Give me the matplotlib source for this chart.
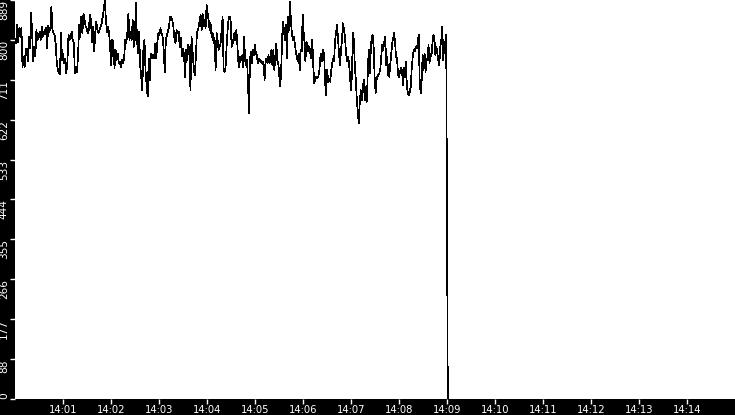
import numpy as np
import pandas as pd
import matplotlib
matplotlib.use('Agg')
import matplotlib.pyplot as plt
import matplotlib.dates as mdates

# readings split in stretches; each stretch is evenly sampled between its
# first and last second after 14:00:00
seg_a = [
    801, 792, 833, 794, 826, 807, 826, 740, 763, 740,
    778, 781, 752, 807, 781, 861, 818, 752, 785, 763,
    822, 800, 807, 818, 800, 830, 807, 815, 822, 826,
    781, 831, 818, 826, 874, 822, 815, 811, 792, 752,
    733, 726, 724, 815, 755, 770, 748, 759, 726, 752,
    811, 800, 804, 818, 800, 792, 726, 740, 729, 770,
    833, 807, 852, 815, 859, 844, 830, 826, 815, 822,
    856, 844, 796, 830, 774, 815, 841, 822, 815, 822,
    830, 837, 852, 867, 889, 844, 818, 830, 815, 778,
    744, 800, 792, 737, 778, 755, 770, 748, 752, 740,
    755, 748, 759, 800, 792, 815, 859, 800, 818, 800,
    844, 785, 800, 882, 800, 770, 818, 744, 718, 688,
    778, 800, 733, 700, 674, 759, 711, 770, 759, 766,
    759, 792, 759, 792, 815, 811, 826, 815, 807, 778,
    729, 800, 811, 818, 830, 852, 850, 844, 830, 804,
    792, 822, 815, 818, 785, 804, 763, 781, 766, 718,
    778, 755, 789, 781, 688, 807, 774, 740, 722, 759,
    815, 822, 833,
]
seg_b = [
    856, 822, 859, 830, 844, 826, 878, 859, 844, 822,
    837, 807, 815, 792, 804, 733, 815, 800, 778, 785,
    792, 822, 852, 733, 729, 740, 785, 822, 848, 852,
    844, 785, 800,
]
seg_c = [
    792, 815, 800, 822, 792, 752, 740, 763, 755, 766,
    740, 807, 755, 744, 755, 703, 636, 755, 774, 748,
    778, 766, 789, 770, 766, 748, 759, 752, 755, 748,
    752, 744, 711, 755, 759, 748, 766, 748, 763, 778,
    744, 778, 733, 766, 792, 755, 748, 722, 696, 733,
    807, 841, 815, 800, 833, 759, 852, 822, 885, 841,
    815, 800, 807, 792, 774, 763, 752, 770, 733, 778,
    774, 856, 818, 792,
]
seg_d = [
    752, 796, 792, 774, 785, 770, 759, 800, 740, 703,
    714, 718, 714, 718, 729, 759, 770, 752, 778, 763,
    703, 677, 733, 707, 714, 707, 729, 748, 759, 752,
    800, 815, 833, 800, 770, 744, 778, 800, 837, 822,
    807, 774, 752, 763, 752, 722, 688, 718, 815, 800,
    740, 711, 666, 640, 614, 662, 688, 666, 692, 711,
    666, 696, 662, 718, 778, 726, 770, 807, 811, 785,
    718, 681, 711,
]
seg_e = [
    718, 722, 726, 737, 766, 789, 778, 796, 807, 744,
    763, 722, 718, 744, 766, 792, 804, 815, 792, 763,
    759, 722, 718, 729, 737, 733, 700, 737, 718, 752,
    696, 681, 677, 685, 696, 740, 763, 778, 774, 785,
    781, 792, 811, 711, 681, 707, 766, 733, 770, 729,
    759, 755, 789, 748, 770, 763, 792, 811, 804, 766,
    785, 770, 755, 744, 785, 800, 830, 755, 796, 770,
    811,
]
seg_end = [403, 0]

segments = [seg_a, seg_b, seg_c, seg_d, seg_e, seg_end]
seg_start_s = [0, 232, 273, 363, 453, 540]
seg_end_s = [230, 272, 362, 452, 539, 541]

y_ticks = [0, 88.9, 177.8, 266.7, 355.6, 444.5, 533.4, 622.3, 711.2, 800.1, 889]
y_labels = ['0', '88', '177', '266', '355', '444', '533', '622', '711', '800', '889']

day = pd.Timestamp('2024-01-01 14:00:00')
times = []
values = []
for seg, s0, s1 in zip(segments, seg_start_s, seg_end_s):
    times.extend(day + pd.to_timedelta(np.linspace(s0, s1, len(seg)), unit='s'))
    values.extend(seg)

x_ticks = pd.date_range(day + pd.Timedelta(minutes=1), day + pd.Timedelta(minutes=14), freq='1min')

fig = plt.figure(figsize=(7.35, 4.15), dpi=100, facecolor='black')
ax = fig.add_axes([15 / 735, 16 / 415, 720 / 735, 399 / 415])
ax.set_facecolor('white')

ax.plot(times, values, color='black', lw=0.5, antialiased=False)

ax.set_xlim(day, day + pd.Timedelta(minutes=15))
ax.set_ylim(0, 889)
for s in ax.spines.values():
    s.set_visible(False)

ax.set_xticks(x_ticks)
ax.xaxis.set_major_formatter(mdates.DateFormatter('%H:%M'))
ax.tick_params(axis='x', colors='white', length=3.6, width=1, pad=0.8,
               labelsize=7.2)

ax.set_yticks(y_ticks)
ax.set_yticklabels(y_labels, rotation=90,
                   family=['Liberation Sans Narrow', 'DejaVu Sans'])
ax.tick_params(axis='y', colors='white', length=3.6, width=1, pad=0.8,
               labelsize=7.6)
for lab in ax.get_yticklabels():
    lab.set_ha('right')
    lab.set_va('bottom' if lab.get_text() == '0' else 'top')

fig.savefig('out.png', dpi=100, facecolor='black')
